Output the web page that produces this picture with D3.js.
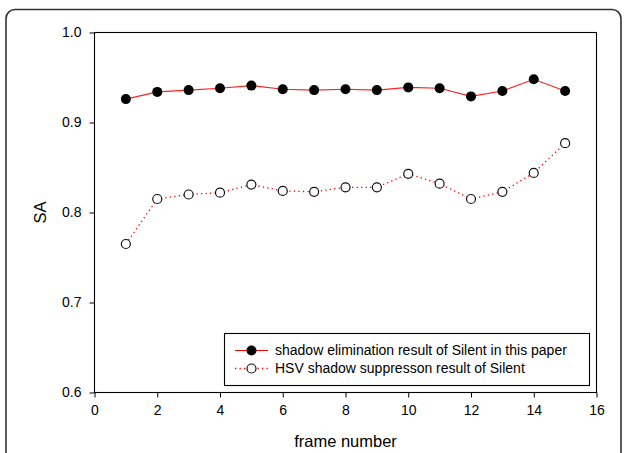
<!DOCTYPE html>
<html>
<head>
<meta charset="utf-8">
<script src="https://cdn.jsdelivr.net/npm/d3@7"></script>
<style>
  body { margin: 0; background: #fff; }
  svg { display: block; font-family: "Liberation Sans", Arial, sans-serif; }
</style>
</head>
<body>
<svg id="chart"></svg>
<script>
// frame numbers and SA values
var frames = [1, 2, 3, 4, 5, 6, 7, 8, 9, 10, 11, 12, 13, 14, 15];
var saProposed = [0.926, 0.934, 0.936, 0.938, 0.941, 0.937, 0.936, 0.937, 0.936, 0.939, 0.938, 0.929, 0.935, 0.948, 0.935];
var saHSV = [0.765, 0.815, 0.820, 0.822, 0.831, 0.824, 0.823, 0.828, 0.828, 0.843, 0.832, 0.815, 0.823, 0.844, 0.877];
var xTicks = [0, 2, 4, 6, 8, 10, 12, 14, 16];
var yTicks = [0.6, 0.7, 0.8, 0.9, 1.0];
var legendLabels = ['shadow elimination result of Silent in this paper', 'HSV shadow suppresson result of Silent'];

var W = 624, H = 453;
var svg = d3.select('#chart').attr('width', W).attr('height', H);

// outer rounded frame, runs off the bottom of the picture
svg.append('rect')
  .attr('x', 6).attr('y', 9.5)
  .attr('width', 615).attr('height', 480)
  .attr('rx', 9).attr('ry', 9)
  .attr('fill', 'none').attr('stroke', '#333').attr('stroke-width', 1.6);

var x = d3.scaleLinear().domain([0, 16]).range([94.5, 596.5]);
var y = d3.scaleLinear().domain([0.6, 1.0]).range([392.5, 32.5]);

// plot box
svg.append('rect')
  .attr('x', x(0)).attr('y', y(1.0))
  .attr('width', x(16) - x(0)).attr('height', y(0.6) - y(1.0))
  .attr('fill', 'none').attr('stroke', '#000').attr('stroke-width', 1.1);

var xAxis = svg.append('g')
  .attr('transform', 'translate(0,' + y(0.6) + ')')
  .call(d3.axisBottom(x).tickValues(xTicks).tickSize(5).tickPadding(8).tickFormat(d3.format('d')));
var yAxis = svg.append('g')
  .attr('transform', 'translate(' + x(0) + ',0)')
  .call(d3.axisLeft(y).tickValues(yTicks).tickSize(5).tickPadding(8).tickFormat(d3.format('.1f')));
[xAxis, yAxis].forEach(function(ax){
  ax.select('.domain').remove();
  ax.selectAll('text').attr('font-size', 14).attr('fill', '#000').attr('font-family', '"Liberation Sans", Arial, sans-serif');
  ax.selectAll('line').attr('stroke', '#000');
});

svg.append('text')
  .attr('x', (x(0) + x(16)) / 2).attr('y', 447)
  .attr('text-anchor', 'middle').attr('font-size', 16.5)
  .text('frame number');
svg.append('text')
  .attr('transform', 'translate(46,' + y(0.8) + ') rotate(-90)')
  .attr('text-anchor', 'middle').attr('font-size', 16.5)
  .text('SA');

var line = d3.line()
  .x(function(d){ return x(d[0]); })
  .y(function(d){ return y(d[1]); });

var s1 = d3.zip(frames, saProposed);
var s2 = d3.zip(frames, saHSV);

svg.append('path').datum(s2)
  .attr('d', line).attr('fill', 'none')
  .attr('stroke', '#ff0000').attr('stroke-width', 1.3).attr('stroke-dasharray', '1.3,3.2');
svg.append('path').datum(s1)
  .attr('d', line).attr('fill', 'none')
  .attr('stroke', '#ff2020').attr('stroke-width', 1.1);

svg.selectAll('.dotHSV').data(s2).enter().append('circle')
  .attr('class', 'dotHSV')
  .attr('cx', function(d){ return x(d[0]); })
  .attr('cy', function(d){ return y(d[1]); })
  .attr('r', 4.5).attr('fill', '#fff').attr('stroke', '#111').attr('stroke-width', 1.2);
svg.selectAll('.dotProp').data(s1).enter().append('circle')
  .attr('class', 'dotProp')
  .attr('cx', function(d){ return x(d[0]); })
  .attr('cy', function(d){ return y(d[1]); })
  .attr('r', 5).attr('fill', '#000');

// legend
var lg = svg.append('g');
lg.append('rect')
  .attr('x', 224.5).attr('y', 333.5).attr('width', 365).attr('height', 52)
  .attr('fill', '#fff').attr('stroke', '#000').attr('stroke-width', 1.1);
legendLabels.forEach(function(label, i){
  var ly = 350.5 + i * 18;
  var l = lg.append('line')
    .attr('x1', 235).attr('x2', 268).attr('y1', ly).attr('y2', ly)
    .attr('stroke', '#ff0000').attr('stroke-width', i ? 1.3 : 1.1);
  if (i) l.attr('stroke-dasharray', '1.3,3.2');
  lg.append('circle')
    .attr('cx', 251.5).attr('cy', ly)
    .attr('r', i ? 4.5 : 5)
    .attr('fill', i ? '#fff' : '#000')
    .attr('stroke', i ? '#111' : 'none').attr('stroke-width', 1.2);
  lg.append('text')
    .attr('x', 275).attr('y', ly).attr('dy', '0.35em')
    .attr('font-size', 14)
    .text(label);
});
</script>
</body>
</html>
